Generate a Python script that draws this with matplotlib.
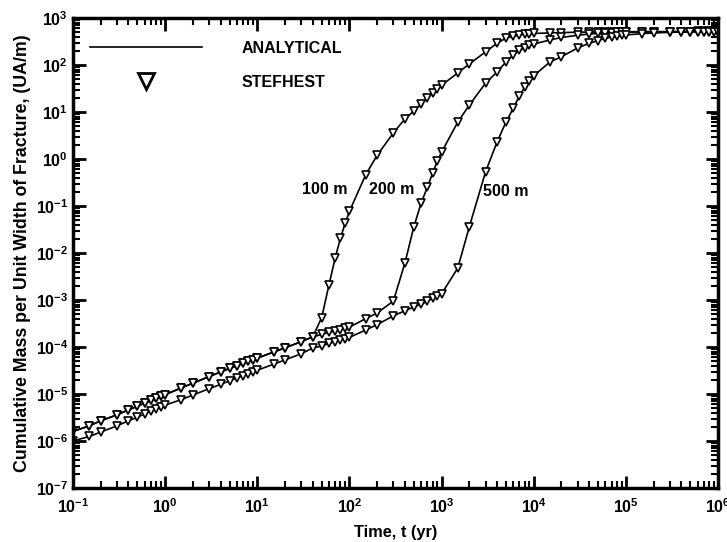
import matplotlib
matplotlib.use("Agg")
import matplotlib.pyplot as plt
from matplotlib.lines import Line2D
from matplotlib.ticker import LogLocator, NullFormatter

plt.rcParams['font.family'] = ['Liberation Sans', 'DejaVu Sans']
plt.rcParams['font.weight'] = 'bold'
plt.rcParams['axes.labelweight'] = 'bold'
plt.rcParams['mathtext.default'] = 'regular'

# output times (yr) of the STEFHEST run, same for all three distances
times = [0.1, 0.15, 0.2, 0.3, 0.4, 0.5, 0.6, 0.7, 0.8, 0.9,
         1, 1.5, 2, 3, 4, 5, 6, 7, 8, 9,
         10, 15, 20, 30, 40, 50, 60, 70, 80, 90,
         100, 150, 200, 300, 400, 500, 600, 700, 800, 900,
         1e3, 1.5e3, 2e3, 3e3, 4e3, 5e3, 6e3, 7e3, 8e3, 9e3,
         1e4, 1.5e4, 2e4, 3e4, 4e4, 5e4, 6e4, 7e4, 8e4, 9e4,
         1e5, 1.5e5, 2e5, 3e5, 4e5, 5e5, 6e5, 7e5, 8e5, 9e5,
         1e6]

# cumulative mass (UA/m)
mass_100m = [1.6e-6, 2.1e-6, 2.7e-6, 3.6e-6, 4.6e-6, 5.5e-6, 6.4e-6, 7.3e-6, 8.1e-6, 8.9e-6,
             9.7e-6, 1.35e-5, 1.7e-5, 2.35e-5, 2.95e-5, 3.5e-5, 4.0e-5, 4.5e-5, 5.0e-5, 5.4e-5,
             5.8e-5, 7.8e-5, 9.6e-5, 1.3e-4, 1.65e-4, 4.2e-4, 2.1e-3, 7.8e-3, 0.021, 0.043,
             0.077, 0.46, 1.2, 3.6, 7.1, 10.5, 15, 20, 25, 31,
             37, 68, 105, 190, 290, 370, 410, 435, 450, 460,
             468, 482, 490, 497, 500, 503, 505, 507, 508, 509,
             510, 512, 513, 514, 515, 516, 517, 517, 518, 518,
             519]
mass_200m = [1.6e-6, 2.1e-6, 2.7e-6, 3.6e-6, 4.6e-6, 5.5e-6, 6.4e-6, 7.3e-6, 8.1e-6, 8.9e-6,
             9.7e-6, 1.35e-5, 1.7e-5, 2.35e-5, 2.95e-5, 3.5e-5, 4.0e-5, 4.5e-5, 5.0e-5, 5.4e-5,
             5.8e-5, 7.8e-5, 9.6e-5, 1.3e-4, 1.65e-4, 1.85e-4, 2.05e-4, 2.2e-4, 2.35e-4, 2.5e-4,
             2.65e-4, 4.0e-4, 5.3e-4, 9.5e-4, 6.1e-3, 0.036, 0.115, 0.25, 0.5, 0.91,
             1.4, 6.1, 14, 41, 71, 116, 165, 205, 235, 260,
             280, 340, 385, 430, 455, 470, 480, 487, 492, 495,
             498, 503, 506, 509, 511, 513, 514, 515, 516, 517,
             518]
mass_500m = [1.0e-6, 1.25e-6, 1.55e-6, 2.1e-6, 2.7e-6, 3.2e-6, 3.8e-6, 4.3e-6, 4.8e-6, 5.3e-6,
             5.8e-6, 7.6e-6, 9.5e-6, 1.3e-5, 1.6e-5, 1.9e-5, 2.2e-5, 2.45e-5, 2.7e-5, 2.95e-5,
             3.2e-5, 4.3e-5, 5.3e-5, 7.2e-5, 9.5e-5, 1.05e-4, 1.2e-4, 1.3e-4, 1.4e-4, 1.5e-4,
             1.6e-4, 2.3e-4, 3.0e-4, 4.6e-4, 5.9e-4, 7.1e-4, 8.2e-4, 9.3e-4, 1.1e-3, 1.2e-3,
             1.35e-3, 4.8e-3, 0.036, 0.53, 2.3, 6.1, 12, 22, 34, 46,
             59, 116, 150, 230, 290, 330, 370, 395, 412, 425,
             435, 465, 480, 495, 502, 507, 510, 512, 514, 515,
             516]

curves = [("100 m", mass_100m), ("200 m", mass_200m), ("500 m", mass_500m)]

fig = plt.figure(figsize=(7.27, 5.42), dpi=100)
ax = fig.add_axes([0.1004, 0.0996, 0.8872, 0.8672])

for name, m in curves:
    ax.plot(times, m, color="black", linewidth=1.2, marker="v", markersize=6,
            markerfacecolor="white", markeredgecolor="black", markeredgewidth=1.2)

ax.set_xscale("log")
ax.set_yscale("log")
ax.set_xlim(1e-1, 1e6)
ax.set_ylim(1e-7, 1e3)

ax.xaxis.set_major_locator(LogLocator(base=10, numticks=20))
ax.yaxis.set_major_locator(LogLocator(base=10, numticks=20))
ax.xaxis.set_minor_locator(LogLocator(base=10, subs=range(2, 10), numticks=20))
ax.yaxis.set_minor_locator(LogLocator(base=10, subs=range(2, 10), numticks=20))
ax.xaxis.set_minor_formatter(NullFormatter())
ax.yaxis.set_minor_formatter(NullFormatter())

ax.tick_params(which="both", direction="in", top=True, right=True, labelsize=11.5)
ax.tick_params(which="major", length=9, width=2)
ax.tick_params(which="minor", length=5, width=1.5)
ax.tick_params(axis="x", pad=7)
for s in ax.spines.values():
    s.set_linewidth(2.5)

# curve labels
ax.text(95, 0.22, "100 m", fontsize=11.5, ha="right", va="center")
ax.text(165, 0.22, "200 m", fontsize=11.5, ha="left", va="center")
ax.text(2800, 0.2, "500 m", fontsize=11.5, ha="left", va="center")

ax.set_xlabel("Time, t (yr)", fontsize=11.8, labelpad=6)
ax.set_ylabel("Cumulative Mass per Unit Width of Fracture, (UA/m)", fontsize=12.8, labelpad=3)

handles = [Line2D([], [], color="black", linewidth=1.2),
           Line2D([], [], color="black", linestyle="none", marker="v", markersize=11,
                  markerfacecolor="white", markeredgewidth=2)]
ax.legend(handles, ["ANALYTICAL", "STEFHEST"], loc="upper left", frameon=False,
          bbox_to_anchor=(0.026, 0.952), borderaxespad=0, borderpad=0,
          handlelength=7, handletextpad=2.5, labelspacing=1.2, fontsize=11.5)

plt.savefig("out.png", dpi=100)
